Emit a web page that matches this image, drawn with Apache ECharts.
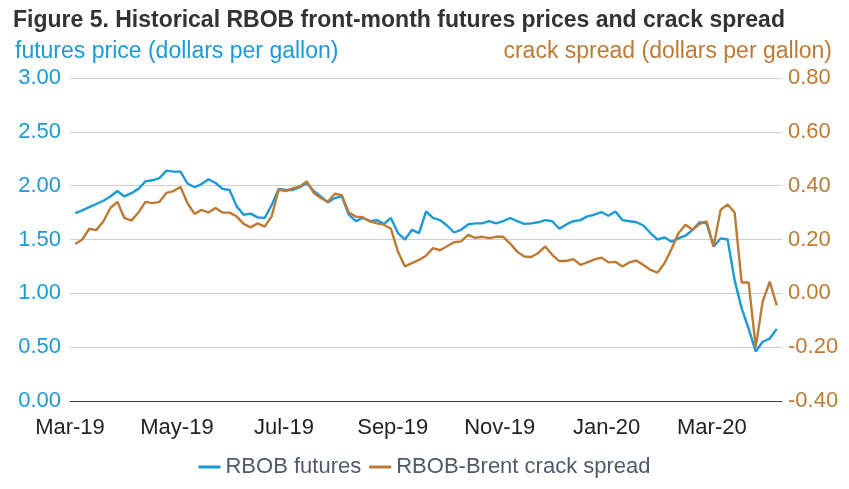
<!DOCTYPE html>
<html>
<head>
<meta charset="utf-8">
<title>RBOB futures and crack spread</title>
<script src="https://cdn.jsdelivr.net/npm/echarts@6/dist/echarts.min.js"></script>
<style>
  html, body { margin: 0; padding: 0; background: #fff; }
  #chart { width: 849px; height: 489px; }
</style>
</head>
<body>
<div id="chart"></div>
<script>
// days counted from 1 Mar 2019; one reading every 4 days starting 4 Mar 2019
const firstDay = 3;
const stepDays = 4;

// RBOB front-month futures, dollars per gallon
const rbobFutures = [
  1.745, 1.77, 1.80, 1.83, 1.86, 1.90, 1.95, 1.90, 1.93, 1.97,
  2.04, 2.05, 2.07, 2.14, 2.13, 2.13, 2.02, 1.985, 2.015, 2.06,
  2.025, 1.97, 1.96, 1.81, 1.73, 1.74, 1.705, 1.70, 1.82, 1.97,
  1.96, 1.96, 1.985, 2.025, 1.95, 1.90, 1.845, 1.885, 1.90, 1.73,
  1.67, 1.70, 1.67, 1.68, 1.645, 1.70, 1.56, 1.50, 1.59, 1.56,
  1.76, 1.70, 1.68, 1.63, 1.565, 1.59, 1.64, 1.65, 1.65, 1.67,
  1.65, 1.67, 1.70, 1.67, 1.645, 1.65, 1.66, 1.68, 1.67, 1.60,
  1.64, 1.67, 1.68, 1.715, 1.73, 1.755, 1.72, 1.76, 1.68, 1.67,
  1.66, 1.63, 1.56, 1.50, 1.52, 1.48, 1.51, 1.535, 1.59, 1.66,
  1.65, 1.435, 1.51, 1.50, 1.12, 0.86, 0.67, 0.46, 0.55, 0.58,
  0.67
];

// RBOB-Brent crack spread, dollars per gallon
const crackSpread = [
  0.183, 0.20, 0.24, 0.235, 0.267, 0.317, 0.34, 0.28, 0.27, 0.30,
  0.34, 0.335, 0.34, 0.373, 0.38, 0.395, 0.335, 0.295, 0.31, 0.30,
  0.317, 0.30, 0.30, 0.286, 0.258, 0.245, 0.26, 0.248, 0.286, 0.385,
  0.38, 0.39, 0.397, 0.416, 0.373, 0.354, 0.34, 0.37, 0.365, 0.30,
  0.285, 0.283, 0.267, 0.26, 0.255, 0.24, 0.155, 0.10, 0.112, 0.124,
  0.14, 0.168, 0.16, 0.175, 0.19, 0.193, 0.217, 0.206, 0.21, 0.205,
  0.21, 0.21, 0.185, 0.155, 0.137, 0.135, 0.15, 0.174, 0.143, 0.12,
  0.12, 0.127, 0.106, 0.115, 0.126, 0.133, 0.115, 0.117, 0.10, 0.115,
  0.122, 0.105, 0.087, 0.077, 0.112, 0.165, 0.224, 0.255, 0.236, 0.258,
  0.267, 0.175, 0.31, 0.33, 0.30, 0.04, 0.04, -0.20, -0.03, 0.043,
  -0.045
];

// x-axis tick labels (day offsets from 1 Mar 2019)
const xTickDays = [0, 61, 122, 184, 245, 306, 366];
const xTickLabels = ['Mar-19', 'May-19', 'Jul-19', 'Sep-19', 'Nov-19', 'Jan-20', 'Mar-20'];

const blue = '#1a9ad6';
const brown = '#bd7a35';
const font = 'Liberation Sans, Arial, sans-serif';

const toPoints = arr => arr.map((v, i) => [firstDay + i * stepDays, v]);

const myChart = echarts.init(document.getElementById('chart'));
myChart.setOption({
  animation: false,
  textStyle: { fontFamily: font },
  title: [
    {
      text: 'Figure 5. Historical RBOB front-month futures prices and crack spread',
      left: 8, top: 4,
      textStyle: { fontSize: 23, fontWeight: 'bold', color: '#333', fontFamily: font }
    },
    {
      text: 'futures price (dollars per gallon)',
      left: 10, top: 35,
      textStyle: { fontSize: 23, fontWeight: 'normal', color: blue, fontFamily: font }
    },
    {
      text: 'crack spread (dollars per gallon)',
      right: 12, top: 35,
      textStyle: { fontSize: 23, fontWeight: 'normal', color: brown, fontFamily: font }
    }
  ],
  grid: { left: 70, right: 67, top: 78, bottom: 88 },
  legend: {
    bottom: 6,
    left: 'center',
    itemWidth: 22,
    itemHeight: 3,
    itemGap: 8,
    icon: 'rect',
    textStyle: { fontSize: 22, color: '#4e5b6c', fontFamily: font },
    data: ['RBOB futures', 'RBOB-Brent crack spread']
  },
  xAxis: {
    type: 'value',
    min: 0,
    max: 406,
    splitLine: { show: false },
    axisTick: { show: false },
    axisLine: { show: true, lineStyle: { color: '#404040', width: 1 } },
    axisLabel: {
      customValues: xTickDays,
      formatter: v => xTickLabels[xTickDays.indexOf(v)],
      fontSize: 22,
      color: '#222',
      margin: 16,
      fontFamily: font
    }
  },
  yAxis: [
    {
      type: 'value',
      min: 0,
      max: 3,
      interval: 0.5,
      axisLine: { show: false },
      axisTick: { show: false },
      splitLine: { lineStyle: { color: '#cfcfcf', width: 1 } },
      axisLabel: {
        formatter: v => v.toFixed(2),
        fontSize: 22,
        color: blue,
        margin: 9,
        fontFamily: font
      }
    },
    {
      type: 'value',
      min: -0.4,
      max: 0.8,
      interval: 0.2,
      axisLine: { show: false },
      axisTick: { show: false },
      splitLine: { show: false },
      axisLabel: {
        formatter: v => v.toFixed(2),
        fontSize: 22,
        color: brown,
        margin: 6,
        fontFamily: font
      }
    }
  ],
  series: [
    {
      name: 'RBOB futures',
      type: 'line',
      yAxisIndex: 0,
      showSymbol: false,
      lineStyle: { color: blue, width: 2.4 },
      itemStyle: { color: blue },
      data: toPoints(rbobFutures)
    },
    {
      name: 'RBOB-Brent crack spread',
      type: 'line',
      yAxisIndex: 1,
      showSymbol: false,
      lineStyle: { color: brown, width: 2.4 },
      itemStyle: { color: brown },
      data: toPoints(crackSpread)
    }
  ]
});
</script>
</body>
</html>
